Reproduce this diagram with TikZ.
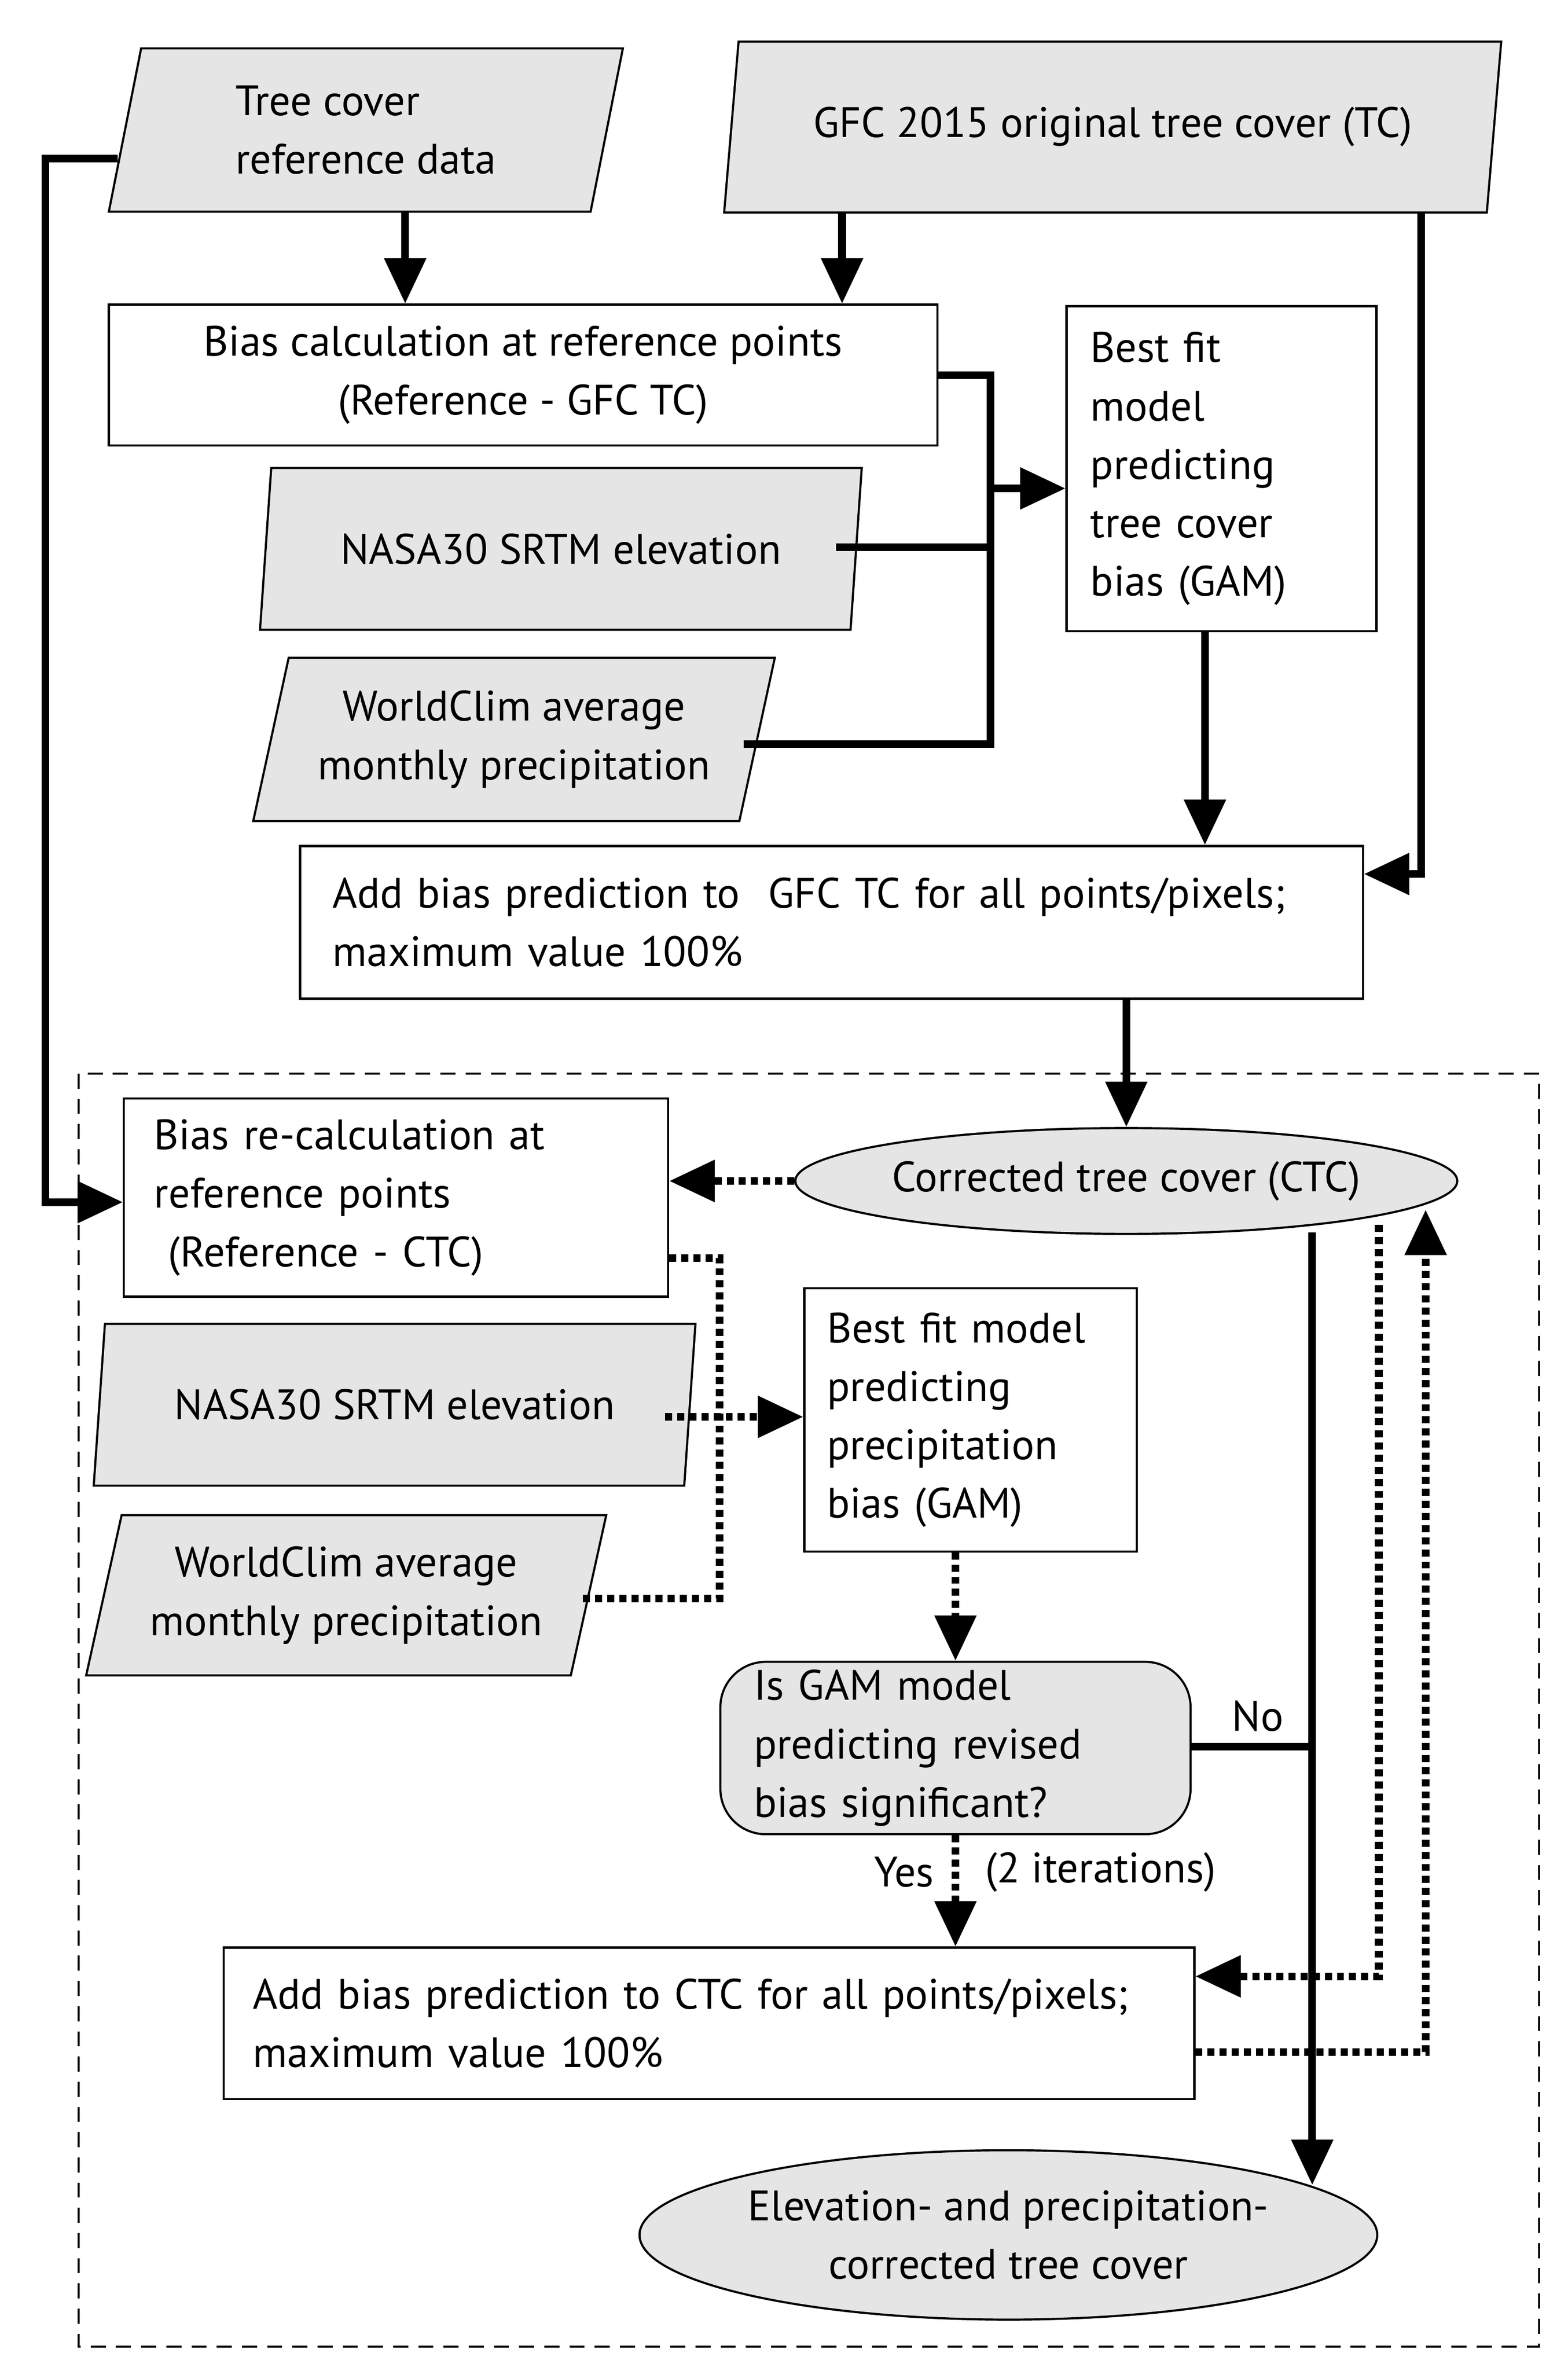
\documentclass[tikz,border=0pt]{standalone}
\usepackage{fontspec}
\setmainfont{PT Sans}
\usetikzlibrary{shapes.geometric,arrows.meta,calc}
\begin{document}
\begin{tikzpicture}[x=0.3mm,y=-0.3mm,
  font=\fontsize{24}{33}\selectfont,
  every node/.style={draw,line width=1.2pt,inner sep=0pt},
  box/.style={rectangle,fill=white},
  data/.style={trapezium,trapezium left angle=70,trapezium right angle=110,trapezium stretches body,fill=gray!20},
  oval/.style={ellipse,fill=gray!20},
  line/.style={line width=4.3pt,-{Triangle[length=9mm,width=8mm]}},
  plain/.style={line width=4.3pt},
  dots/.style={line width=4.3pt,dash pattern=on 1.4mm off 1mm,-{Triangle[length=9mm,width=8mm]}},
  dotsp/.style={line width=4.3pt,dash pattern=on 1.4mm off 1mm},
  lbl/.style={draw=none,fill=none}]
\useasboundingbox (0,0) rectangle (1037,1568);
\draw[line width=1.2pt,dash pattern=on 3mm off 2mm] (52,710) rectangle (1018,1552);

\node[data,minimum width=102mm,minimum height=32.4mm,align=left] (p1) at (242,86) {Tree cover\\reference data};
\node[data,minimum width=154.2mm,minimum height=33.9mm] (p2) at (736,84) {GFC 2015 original tree cover (TC)};
\node[box,minimum width=164.4mm,minimum height=27.9mm,align=center] (r1) at (346,248) {Bias calculation at reference points\\(Reference - GFC TC)};
\node[box,minimum width=61.5mm,minimum height=64.5mm,align=left,text width=52mm] (r2) at (808,310) {Best fit\\model\\predicting\\tree cover\\bias (GAM)};
\node[data,minimum width=119.4mm,minimum height=32.1mm] (p3) at (371,363) {NASA30 SRTM elevation};
\node[data,minimum width=103.5mm,minimum height=32.4mm,align=center] (p4) at (340,489) {WorldClim average\\monthly precipitation};
\node[box,minimum width=210.9mm,minimum height=30.3mm,align=left,text width=198mm] (r3) at (550,610) {Add bias prediction to~~GFC TC for all points/pixels;\\maximum value 100\%};

\node[oval,minimum width=126mm,minimum height=21mm] (e1) at (745,781) {Corrected tree cover (CTC)};
\node[box,minimum width=108mm,minimum height=39.3mm,align=left,text width=96mm] (r4) at (262,792) {Bias re-calculation at\\reference points\\~(Reference - CTC)};
\node[data,minimum width=119.4mm,minimum height=32.1mm] (p5) at (261,929) {NASA30 SRTM elevation};
\node[data,minimum width=103.2mm,minimum height=31.8mm,align=center] (p6) at (229,1055) {WorldClim average\\monthly precipitation};
\node[box,minimum width=66mm,minimum height=52.2mm,align=left,text width=57mm] (r5) at (642,939) {Best fit model\\predicting\\precipitation\\bias (GAM)};
\node[box,rounded corners=9mm,fill=gray!20,minimum width=93.3mm,minimum height=34.2mm,align=left,text width=80mm] (rr) at (632,1156) {Is GAM model\\predicting revised\\bias significant?};
\node[box,minimum width=192.6mm,minimum height=30mm,align=left,text width=181mm] (r6) at (469,1338) {Add bias prediction to CTC for all points/pixels;\\maximum value 100\%};
\node[oval,minimum width=146.4mm,minimum height=33.6mm,align=center] (e2) at (667,1478) {Elevation- and precipitation-\\corrected tree cover};

% solid connectors
\draw[line] (p1.south -| 268,0) -- (r1.north -| 268,0);
\draw[line] (p2.south -| 557,0) -- (r1.north -| 557,0);
\coordinate (j1) at (655,248);
\coordinate (j2) at (655,492);
\draw[plain] (r1.east |- j1) -- (j1) -- (j2) -- (492,492);
\draw[plain] (553,362) -- (655,362);
\draw[line] (655,323) -- (r2.west |- 0,323);
\draw[line] (r2.south -| 797,0) -- (r3.north -| 797,0);
\coordinate (g1) at (940,578);
\draw[line] (940,140) -- (g1) -- (r3.east |- g1);
\coordinate (t1) at (30,105);
\coordinate (t2) at (30,795);
\draw[line] (78,105) -- (t1) -- (t2) -- (r4.west |- t2);
\draw[line] (r3.south -| e1.north) -- (e1.north);
\coordinate (n1) at (868,1155);
\draw[line] (868,815) -- (868,1445);
\draw[plain] (rr.east |- n1) -- (n1);
\node[lbl] at (832,1135) {No};

% dotted connectors
\draw[dots] (e1.west) -- (r4.east |- e1.west);
\coordinate (d1) at (476,832);
\coordinate (d2) at (476,1057);
\draw[dotsp] (r4.east |- d1) -- (d1) -- (d2) -- (385,1057);
\draw[dots] (440,937) -- (r5.west |- 0,937);
\draw[dots] (r5.south -| rr.north) -- (rr.north);
\draw[dots] (rr.south) -- (r6.north -| rr.south);
\node[lbl] at (598,1238) {Yes};
\node[lbl] at (728,1238) {(2 iterations)};
\coordinate (d3) at (912,1307);
\draw[dots] (912,810) -- (d3) -- (r6.east |- d3);
\coordinate (d4) at (943,1357);
\draw[dots] (r6.east |- d4) -- (d4) -- (943,800);
\end{tikzpicture}
\end{document}
